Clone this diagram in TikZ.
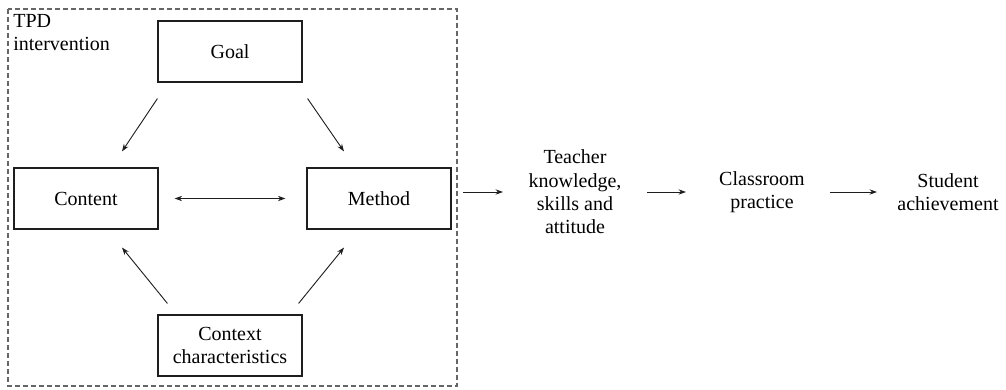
\documentclass[tikz,border=0pt]{standalone}
\usepackage{fontspec}
\setmainfont{Liberation Serif}
\usepackage{xcolor}
\usepackage{tikz}
\usetikzlibrary{arrows.meta, calc}

\definecolor{inkgray}{HTML}{1E1E1E}

\tikzset{
    box/.style={draw=inkgray, line width=0.7pt, minimum width=86.4pt, minimum height=36.6pt,
        align=center, font=\fontsize{12}{14}\selectfont, text=black},
    plain/.style={align=center, inner sep=0pt, font=\fontsize{12}{14}\selectfont, text=black},
    arr/.style={draw=inkgray, line width=0.55pt, -{Stealth[length=4.5pt,width=3.2pt]}},
    biarr/.style={draw=inkgray, line width=0.55pt, {Stealth[length=4.5pt,width=3.2pt]}-{Stealth[length=4.5pt,width=3.2pt]}}
}

\begin{document}
\begin{tikzpicture}[x=0.6pt, y=-0.6pt]
    \useasboundingbox (0,0) rectangle (1006,389);

    % TPD intervention frame
    \draw[black!60, line width=0.7pt, dash pattern=on 3pt off 1.8pt] (8,9) rectangle (457,386);
    \node[plain, align=left, anchor=north west] (tpd) at (13,14) {TPD\\intervention};

    % Boxes inside the frame
    \node[box] (goal) at (230,51.5) {Goal};
    \node[box] (content) at (86,198.5) {Content};
    \node[box] (method) at (379,198.5) {Method};
    \node[box] (context) at (230,345.5) {Context\\characteristics};

    % Arrows inside the frame
    \draw[arr] ($(goal.south west)+(0,16)$) -- ($(content.north)+(36,-16)$);
    \draw[arr] ($(goal.south east)+(5,16)$) -- ($(method.north)+(-35,-16)$);
    \draw[biarr] ($(content.east)+(16,0)$) -- ($(method.west)+(-21,0)$);
    \draw[arr] ($(context.north west)+(10,-11)$) -- ($(content.south)+(36,18)$);
    \draw[arr] ($(context.north east)+(-4,-11)$) -- ($(method.south)+(-35,18)$);

    % Outcomes
    \node[plain] (teacher) at (575,192) {Teacher\\knowledge,\\skills and\\attitude};
    \node[plain] (classroom) at (762,192) {Classroom\\practice};
    \node[plain] (student) at (948,192) {Student\\achievement};

    % Arrows between outcomes
    \draw[arr] ($(teacher)+(-112,0)$) -- ($(teacher)+(-72,0)$);
    \draw[arr] ($(classroom)+(-115,0)$) -- ($(classroom)+(-76,0)$);
    \draw[arr] ($(student)+(-118,0)$) -- ($(student)+(-71,0)$);
\end{tikzpicture}
\end{document}
